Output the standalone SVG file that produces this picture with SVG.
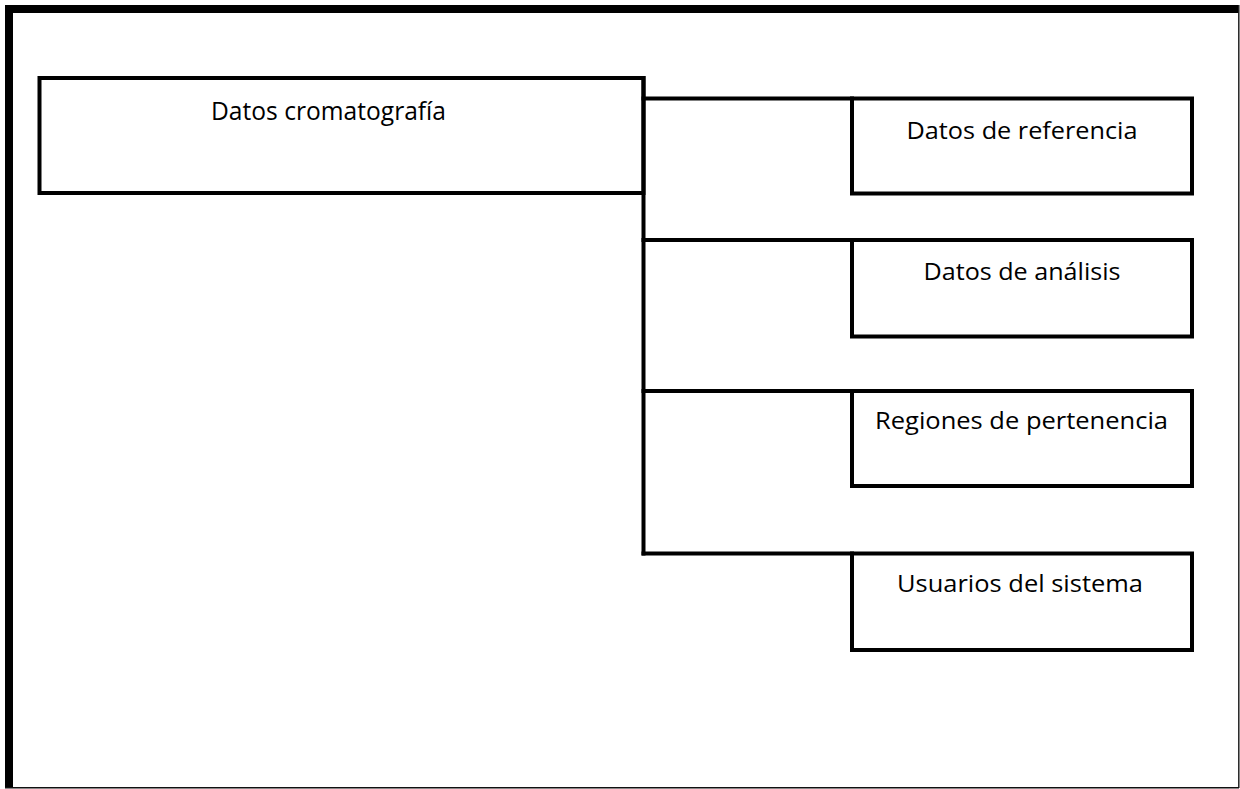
<svg xmlns="http://www.w3.org/2000/svg" width="1240" height="789" viewBox="0 0 1240 789">
  <style>
    .box { fill: none; stroke: #000; stroke-width: 4; }
    .link { fill: none; stroke: #000; stroke-width: 4; stroke-linecap: square; }
    .label { font-family: "Open Sans", "Liberation Sans", sans-serif; font-weight: 400; fill: #000; text-anchor: middle; }
    .main { font-size: 26px; }
    .child { font-size: 23px; }
  </style>
  <rect width="1240" height="789" fill="#fff"/>

  <!-- page frame: heavy top and left rule, hairline right and bottom -->
  <g id="frame">
    <rect x="5" y="5" width="8" height="783" fill="#000"/>
    <rect x="5" y="5" width="1234" height="8" fill="#000"/>
    <line x1="1238.8" y1="5" x2="1238.8" y2="788" stroke="#222" stroke-width="1.5"/>
    <line x1="5" y1="787.8" x2="1239" y2="787.8" stroke="#111" stroke-width="1.5"/>
  </g>

  <!-- connectors: trunk down the root's right edge, one branch per child -->
  <g id="connectors">
    <line class="link" x1="643.5" y1="78" x2="643.5" y2="553.5"/>
    <line class="link" x1="643.5" y1="98.5" x2="852" y2="98.5"/>
    <line class="link" x1="643.5" y1="240" x2="852" y2="240"/>
    <line class="link" x1="643.5" y1="391" x2="852" y2="391"/>
    <line class="link" x1="643.5" y1="553.5" x2="852" y2="553.5"/>
  </g>

  <g id="node-root">
    <rect class="box" x="39.5" y="78" width="604" height="115"/>
    <text class="label main" x="328.5" y="120" textLength="235" lengthAdjust="spacingAndGlyphs">Datos cromatografía</text>
  </g>

  <g id="node-referencia">
    <rect class="box" x="852" y="98.5" width="340" height="95"/>
    <text class="label child" x="1022" y="138.5" textLength="231" lengthAdjust="spacingAndGlyphs">Datos de referencia</text>
  </g>

  <g id="node-analisis">
    <rect class="box" x="852" y="240" width="340" height="96.5"/>
    <text class="label child" x="1022" y="280" textLength="197" lengthAdjust="spacingAndGlyphs">Datos de análisis</text>
  </g>

  <g id="node-regiones">
    <rect class="box" x="852" y="391" width="340" height="95"/>
    <text class="label child" x="1021.5" y="428.5" textLength="293" lengthAdjust="spacingAndGlyphs">Regiones de pertenencia</text>
  </g>

  <g id="node-usuarios">
    <rect class="box" x="852" y="553.5" width="340" height="96.5"/>
    <text class="label child" x="1020" y="591.5" textLength="246" lengthAdjust="spacingAndGlyphs">Usuarios del sistema</text>
  </g>
</svg>
